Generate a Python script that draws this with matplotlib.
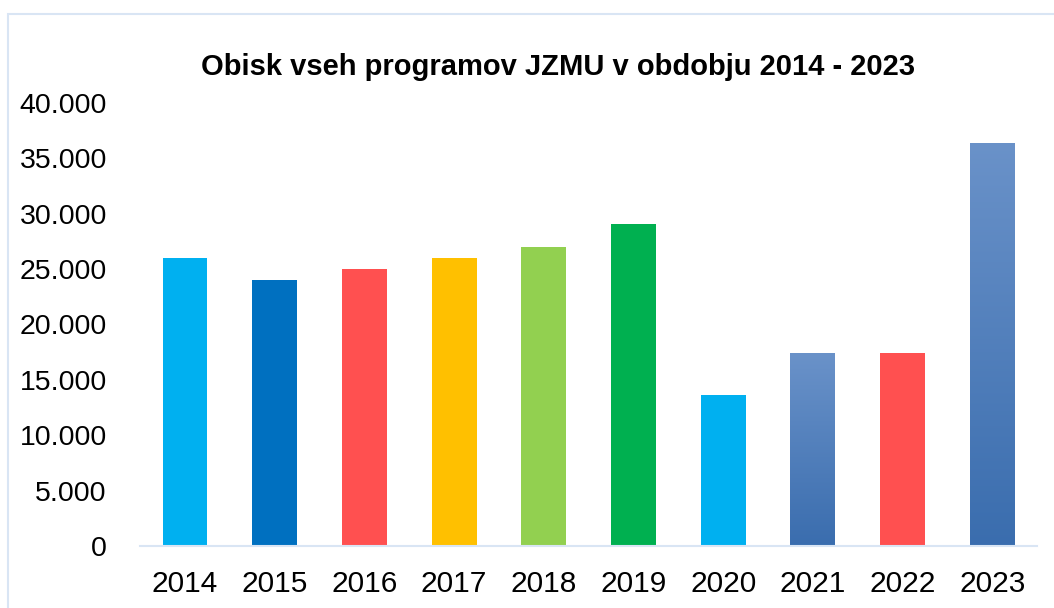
import matplotlib.pyplot as plt
import numpy as np
from matplotlib.colors import LinearSegmentedColormap
from matplotlib.patches import Rectangle

plt.rcParams['font.family'] = ['Liberation Sans', 'DejaVu Sans']

# Data
years = ["2014", "2015", "2016", "2017", "2018", "2019", "2020", "2021", "2022", "2023"]
visits = [26000, 24000, 25000, 26000, 27000, 29100, 13650, 17400, 17400, 36400]
colors = ["#00B0F0", "#0070C0", "#FF5050", "#FFC000", "#92D050",
          "#00B050", "#00B0F0", None, "#FF5050", None]
yticks = [0, 5000, 10000, 15000, 20000, 25000, 30000, 35000, 40000]
ytick_labels = ["0", "5.000", "10.000", "15.000", "20.000", "25.000", "30.000", "35.000", "40.000"]

fig = plt.figure(figsize=(10.54, 6.08), dpi=100)
ax = fig.add_axes([0.133, 0.102, 0.851, 0.729])

# light blue chart frame, cut off on the right and bottom
fig.patches.append(Rectangle((8 / 1054, -0.1), 1.2, 1 - 14 / 608 + 0.1,
                             transform=fig.transFigure, fill=False,
                             edgecolor="#D9E5F4", linewidth=1.5))

grad = LinearSegmentedColormap.from_list("blues", ["#3A6DAE", "#6A92C9"])
x = np.arange(len(years))
bars = ax.bar(x, visits, width=0.5, color=[c if c else "none" for c in colors], zorder=2)
for b, c in zip(bars, colors):
    if c is None:
        bx, by = b.get_x(), b.get_y()
        w, h = b.get_width(), b.get_height()
        im = ax.imshow(np.linspace(0, 1, 256).reshape(-1, 1), cmap=grad,
                       extent=[bx, bx + w, by, by + h], origin="lower",
                       aspect="auto", zorder=2)
        im.set_clip_path(b)

ax.set_xlim(-0.5, len(years) - 0.5)
ax.set_ylim(0, 40000)
ax.set_xticks(x)
ax.set_xticklabels(years, fontsize=21.5)
ax.set_yticks(yticks)
ax.set_yticklabels(ytick_labels, fontsize=20.5)
ax.tick_params(axis="x", length=0, pad=17)
ax.tick_params(axis="y", length=0, pad=24)
for s in ["top", "right", "left"]:
    ax.spines[s].set_visible(False)
ax.spines["bottom"].set_color("#D9E5F4")
ax.spines["bottom"].set_linewidth(1.5)

fig.text(0.529, 1 - 67 / 608, "Obisk vseh programov JZMU v obdobju 2014 - 2023",
         ha="center", va="center", fontsize=21, fontweight="bold")

fig.savefig("out.png", dpi=100)
